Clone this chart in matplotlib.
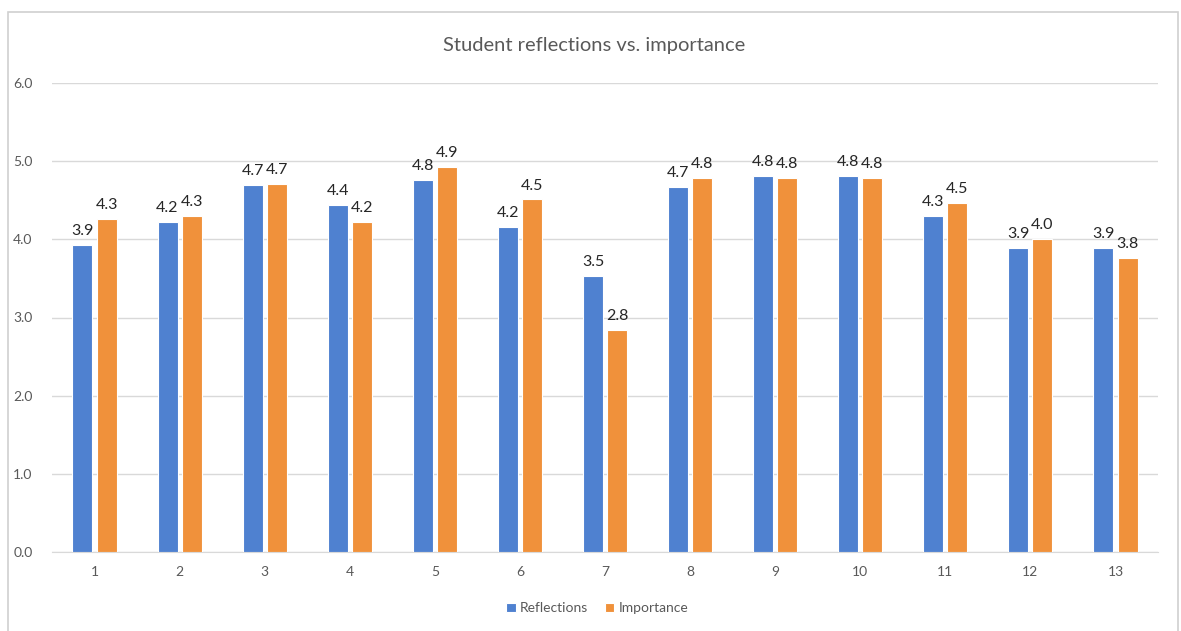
import numpy as np
import matplotlib.pyplot as plt
from matplotlib.patches import Rectangle

plt.rcParams['font.family'] = ['Lato', 'DejaVu Sans']

# Dados do gráfico
categorias = [str(i) for i in range(1, 14)]
reflections = [3.93, 4.22, 4.69, 4.44, 4.76, 4.16, 3.53, 4.67, 4.81, 4.81, 4.30, 3.89, 3.89]
importance = [4.26, 4.30, 4.71, 4.22, 4.92, 4.51, 2.84, 4.79, 4.79, 4.79, 4.47, 4.00, 3.76]
yticks = [0, 1, 2, 3, 4, 5, 6]

cor_azul = '#4f81d0'
cor_laranja = '#f0913b'
cinza = '#595959'

fig = plt.figure(figsize=(11.81, 6.31), dpi=100)
ax = fig.add_axes([52 / 1181, 79 / 631, 1106 / 1181, 469 / 631])

# Moldura da área do gráfico
fig.patches.append(Rectangle((8 / 1181, -0.05), 1170 / 1181, 1.05 - 12 / 631,
                             transform=fig.transFigure, fill=False,
                             edgecolor='#d0d0d0', linewidth=1.2))

x = np.arange(1, len(categorias) + 1)
largura = 0.235
desloc = 0.142

b1 = ax.bar(x - desloc, reflections, largura, color=cor_azul, edgecolor='white',
            linewidth=0.8, label='Reflections', zorder=3)
b2 = ax.bar(x + desloc, importance, largura, color=cor_laranja, edgecolor='white',
            linewidth=0.8, label='Importance', zorder=3)

for barras in (b1, b2):
    for b in barras:
        h = b.get_height()
        ax.annotate(f'{h:.1f}', (b.get_x() + b.get_width() / 2, h),
                    xytext=(0, 5), textcoords='offset points',
                    ha='center', va='bottom', fontsize=11.5, color='#262626')

ax.set_xlim(0.5, 13.5)
ax.set_ylim(0, 6)
ax.set_yticks(yticks)
ax.set_yticklabels([f'{v:.1f}' for v in yticks])
ax.set_xticks(x)
ax.set_xticklabels(categorias)
ax.tick_params(axis='both', length=0, labelsize=10, labelcolor=cinza)
ax.tick_params(axis='y', pad=14)
ax.tick_params(axis='x', pad=10)

ax.grid(axis='y', color='#d9d9d9', linewidth=1, zorder=0)
for lado in ['top', 'right', 'left']:
    ax.spines[lado].set_visible(False)
ax.spines['bottom'].set_color('#d9d9d9')

fig.text(594 / 1181, 1 - 46 / 631, 'Student reflections vs. importance',
         ha='center', va='center', fontsize=14.5, color=cinza)

ax.legend(loc='center', bbox_to_anchor=(545 / 1106, -0.12), ncol=2, frameon=False,
          fontsize=10, labelcolor=cinza, handlelength=0.7, handleheight=0.7,
          handletextpad=0.3, columnspacing=1.2)

fig.savefig('out.png', dpi=100)
